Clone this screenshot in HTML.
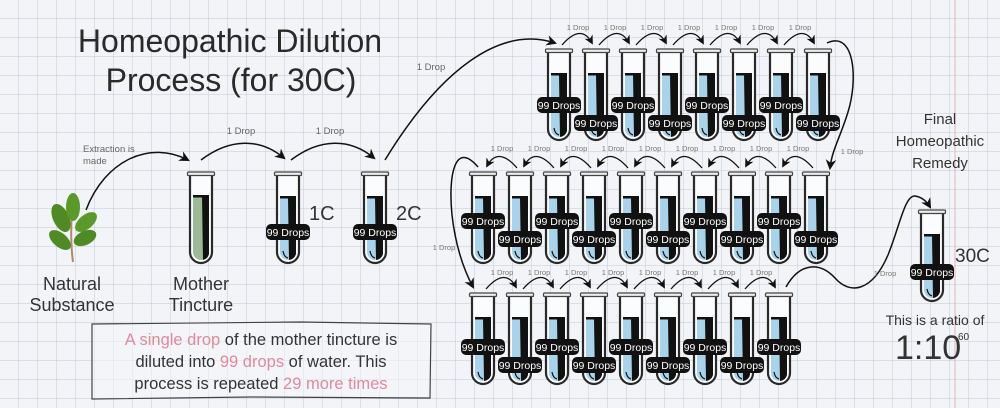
<!DOCTYPE html>
<html><head><meta charset="utf-8"><style>
html,body{margin:0;padding:0;background:#f3f4f7;}
svg{display:block;font-family:"Liberation Sans",sans-serif;}
</style></head><body>
<svg width="1000" height="408" viewBox="0 0 1000 408" xmlns="http://www.w3.org/2000/svg">
<defs>
<pattern id="grid" x="0" y="0" width="19" height="19" patternUnits="userSpaceOnUse">
<path d="M19 0V19M0 19H19" stroke="#bfcadb" stroke-width="1" fill="none"/>
</pattern>
<marker id="ah" viewBox="0 0 10 10" refX="8" refY="5" markerWidth="7" markerHeight="7" orient="auto-start-reverse">
<path d="M0,0 L10,5 L0,10 L3,5 z" fill="#111"/>
</marker>
<g id="tube">
<path d="M-11,3 V80 A11,11 0 0 0 11,80 V3" fill="#fbfcfd" stroke="#2a2a2a" stroke-width="2.2"/>
<path d="M-8,25 H8 V80 A8,8 0 0 1 -8,80 Z" fill="#a9d3ea"/>
<path d="M0,25 H8 V82 A8,8 0 0 1 1,88 Z" fill="#111"/>
<rect x="-8" y="24" width="16" height="2.5" fill="#111"/>
<path d="M-5,79 Q-4,85 0,86" fill="none" stroke="#111" stroke-width="1.2"/>
<rect x="-13.5" y="0" width="27" height="3.5" rx="1" fill="#eee" stroke="#444" stroke-width="1.2"/>
</g>
<g id="gtube">
<path d="M-11,3 V80 A11,11 0 0 0 11,80 V3" fill="#fbfcfd" stroke="#2a2a2a" stroke-width="2.2"/>
<path d="M-8,24 H8 V80 A8,8 0 0 1 -8,80 Z" fill="#9cba94"/>
<path d="M1,24 H8 V82 A8,8 0 0 1 2,88 Z" fill="#111"/>
<rect x="-8" y="23" width="16" height="2.5" fill="#111"/>
<rect x="-13.5" y="0" width="27" height="3.5" rx="1" fill="#eee" stroke="#444" stroke-width="1.2"/>
</g>
<rect id="lb" x="-22" y="-8" width="44" height="16" rx="5" fill="#111"/>
</defs>
<rect width="1000" height="408" fill="#f3f4f7"/>
<rect width="1000" height="408" fill="url(#grid)"/>
<line x1="955" y1="0" x2="955" y2="408" stroke="#e4b2b8" stroke-width="1"/>

<text x="230" y="52" font-size="32" fill="#2a2a2a" text-anchor="middle">Homeopathic Dilution</text>
<text x="231" y="91" font-size="32" fill="#2a2a2a" text-anchor="middle">Process (for 30C)</text>

<g>
<path d="M73,262 Q70,240 72,210" stroke="#b08a6a" stroke-width="2" fill="none"/>
<ellipse cx="61" cy="218" rx="8" ry="15" transform="rotate(-25 61 218)" fill="#4f8a25"/>
<ellipse cx="73" cy="207" rx="7" ry="14" fill="#5a9a2a"/>
<ellipse cx="86" cy="222" rx="7" ry="13" transform="rotate(50 86 222)" fill="#5a9a2a"/>
<ellipse cx="60" cy="240" rx="7" ry="13" transform="rotate(-50 60 240)" fill="#4f8a25"/>
<ellipse cx="85" cy="238" rx="7" ry="12" transform="rotate(65 85 238)" fill="#4f8a25"/>
</g>
<text x="72" y="290" font-size="18" fill="#333" text-anchor="middle">Natural</text>
<text x="72" y="311" font-size="18" fill="#333" text-anchor="middle">Substance</text>
<text x="201" y="290" font-size="18" fill="#333" text-anchor="middle">Mother</text>
<text x="201" y="311" font-size="18" fill="#333" text-anchor="middle">Tincture</text>

<text x="83" y="152" font-size="9.5" fill="#666">Extraction is</text>
<text x="83" y="164" font-size="9.5" fill="#666">made</text>

<g fill="none" stroke="#111" stroke-width="1.5">
<path d="M86,210 C105,160 150,140 188,160" marker-end="url(#ah)"/>
<path d="M201,160 C230,138 260,138 284,158" marker-end="url(#ah)"/>
<path d="M291,160 C320,138 350,138 374,158" marker-end="url(#ah)"/>
<path d="M385,160 C440,70 500,25 555,43" marker-end="url(#ah)"/>
<path d="M827,43 C855,30 858,80 848,112 C840,138 832,150 830,168" marker-end="url(#ah)"/>
<path d="M478,167 C455,140 448,175 452,215 C456,250 465,272 473,287" marker-end="url(#ah)"/>
<path d="M786,287 C800,262 820,262 835,278 C850,295 872,292 888,255 C900,225 905,195 915,196 C922,197 927,202 930,207" marker-end="url(#ah)"/>
</g>
<g font-size="9.5" fill="#666" text-anchor="middle">
<text x="241" y="134">1 Drop</text>
<text x="330" y="134">1 Drop</text>
<text x="431" y="70">1 Drop</text>
</g>
<g font-size="7.5" fill="#777" text-anchor="middle">
<text x="852" y="154">1 Drop</text>
<text x="444" y="250">1 Drop</text>
<text x="885" y="276">1 Drop</text>
</g>

<use href="#gtube" x="201" y="172"/>
<use href="#tube" x="288" y="172"/>
<use href="#tube" x="375" y="172"/>
<use href="#lb" x="288" y="232"/>
<use href="#lb" x="375" y="232"/>
<g font-size="10.5" fill="#fff" text-anchor="middle">
<text x="288" y="236">99 Drops</text>
<text x="375" y="236">99 Drops</text>
</g>
<text x="309" y="220" font-size="20" fill="#333">1C</text>
<text x="396" y="220" font-size="20" fill="#333">2C</text>

<g fill="none" stroke="#111" stroke-width="1.3">
<path d="M562,45 C575,30 585,30 592,43" marker-end="url(#ah)"/>
<path d="M599,45 C612,30 622,30 629,43" marker-end="url(#ah)"/>
<path d="M636,45 C649,30 659,30 666,43" marker-end="url(#ah)"/>
<path d="M673,45 C686,30 696,30 703,43" marker-end="url(#ah)"/>
<path d="M710,45 C723,30 733,30 740,43" marker-end="url(#ah)"/>
<path d="M747,45 C760,30 770,30 777,43" marker-end="url(#ah)"/>
<path d="M784,45 C797,30 807,30 814,43" marker-end="url(#ah)"/>
</g>
<g font-size="7.5" fill="#777" text-anchor="middle">
<text x="578" y="30">1 Drop</text><text x="615" y="30">1 Drop</text><text x="652" y="30">1 Drop</text><text x="689" y="30">1 Drop</text><text x="726" y="30">1 Drop</text><text x="763" y="30">1 Drop</text><text x="800" y="30">1 Drop</text>
</g>
<g fill="none" stroke="#111" stroke-width="1.3">
<path d="M813,168 C800,153 790,153 783,166" marker-end="url(#ah)"/>
<path d="M776,168 C763,153 753,153 746,166" marker-end="url(#ah)"/>
<path d="M739,168 C726,153 716,153 709,166" marker-end="url(#ah)"/>
<path d="M702,168 C689,153 679,153 672,166" marker-end="url(#ah)"/>
<path d="M665,168 C652,153 642,153 635,166" marker-end="url(#ah)"/>
<path d="M628,168 C615,153 605,153 598,166" marker-end="url(#ah)"/>
<path d="M591,168 C578,153 568,153 561,166" marker-end="url(#ah)"/>
<path d="M554,168 C541,153 531,153 524,166" marker-end="url(#ah)"/>
<path d="M517,168 C504,153 494,153 487,166" marker-end="url(#ah)"/>
</g>
<g font-size="7.5" fill="#777" text-anchor="middle">
<text x="502" y="151">1 Drop</text><text x="539" y="151">1 Drop</text><text x="576" y="151">1 Drop</text><text x="613" y="151">1 Drop</text><text x="650" y="151">1 Drop</text><text x="687" y="151">1 Drop</text><text x="724" y="151">1 Drop</text><text x="761" y="151">1 Drop</text><text x="798" y="151">1 Drop</text>
</g>
<g fill="none" stroke="#111" stroke-width="1.3">
<path d="M486,289 C499,274 509,274 516,287" marker-end="url(#ah)"/>
<path d="M523,289 C536,274 546,274 553,287" marker-end="url(#ah)"/>
<path d="M560,289 C573,274 583,274 590,287" marker-end="url(#ah)"/>
<path d="M597,289 C610,274 620,274 627,287" marker-end="url(#ah)"/>
<path d="M634,289 C647,274 657,274 664,287" marker-end="url(#ah)"/>
<path d="M671,289 C684,274 694,274 701,287" marker-end="url(#ah)"/>
<path d="M708,289 C721,274 731,274 738,287" marker-end="url(#ah)"/>
<path d="M745,289 C758,274 768,274 775,287" marker-end="url(#ah)"/>
</g>
<g font-size="7.5" fill="#777" text-anchor="middle">
<text x="502" y="275">1 Drop</text><text x="539" y="275">1 Drop</text><text x="576" y="275">1 Drop</text><text x="613" y="275">1 Drop</text><text x="650" y="275">1 Drop</text><text x="687" y="275">1 Drop</text><text x="724" y="275">1 Drop</text><text x="761" y="275">1 Drop</text>
</g>

<use href="#tube" x="559" y="49"/><use href="#tube" x="596" y="49"/><use href="#tube" x="633" y="49"/><use href="#tube" x="670" y="49"/><use href="#tube" x="707" y="49"/><use href="#tube" x="744" y="49"/><use href="#tube" x="781" y="49"/><use href="#tube" x="818" y="49"/>
<use href="#tube" x="483" y="172"/><use href="#tube" x="520" y="172"/><use href="#tube" x="557" y="172"/><use href="#tube" x="594" y="172"/><use href="#tube" x="631" y="172"/><use href="#tube" x="668" y="172"/><use href="#tube" x="705" y="172"/><use href="#tube" x="742" y="172"/><use href="#tube" x="779" y="172"/><use href="#tube" x="816" y="172"/>
<use href="#tube" x="483" y="293"/><use href="#tube" x="520" y="293"/><use href="#tube" x="557" y="293"/><use href="#tube" x="594" y="293"/><use href="#tube" x="631" y="293"/><use href="#tube" x="668" y="293"/><use href="#tube" x="705" y="293"/><use href="#tube" x="742" y="293"/><use href="#tube" x="779" y="293"/>
<use href="#tube" x="932" y="210"/>

<use href="#lb" x="559" y="105"/><use href="#lb" x="596" y="123"/><use href="#lb" x="633" y="105"/><use href="#lb" x="670" y="123"/><use href="#lb" x="707" y="105"/><use href="#lb" x="744" y="123"/><use href="#lb" x="781" y="105"/><use href="#lb" x="818" y="123"/>
<use href="#lb" x="483" y="221"/><use href="#lb" x="520" y="239"/><use href="#lb" x="557" y="221"/><use href="#lb" x="594" y="239"/><use href="#lb" x="631" y="221"/><use href="#lb" x="668" y="239"/><use href="#lb" x="705" y="221"/><use href="#lb" x="742" y="239"/><use href="#lb" x="779" y="221"/><use href="#lb" x="816" y="239"/>
<use href="#lb" x="483" y="347"/><use href="#lb" x="520" y="365"/><use href="#lb" x="557" y="347"/><use href="#lb" x="594" y="365"/><use href="#lb" x="631" y="347"/><use href="#lb" x="668" y="365"/><use href="#lb" x="705" y="347"/><use href="#lb" x="742" y="365"/><use href="#lb" x="779" y="347"/>
<use href="#lb" x="932" y="272"/>
<g font-size="10.5" fill="#fff" text-anchor="middle">
<text x="559" y="109">99 Drops</text><text x="596" y="127">99 Drops</text><text x="633" y="109">99 Drops</text><text x="670" y="127">99 Drops</text><text x="707" y="109">99 Drops</text><text x="744" y="127">99 Drops</text><text x="781" y="109">99 Drops</text><text x="818" y="127">99 Drops</text>
<text x="483" y="225">99 Drops</text><text x="520" y="243">99 Drops</text><text x="557" y="225">99 Drops</text><text x="594" y="243">99 Drops</text><text x="631" y="225">99 Drops</text><text x="668" y="243">99 Drops</text><text x="705" y="225">99 Drops</text><text x="742" y="243">99 Drops</text><text x="779" y="225">99 Drops</text><text x="816" y="243">99 Drops</text>
<text x="483" y="351">99 Drops</text><text x="520" y="369">99 Drops</text><text x="557" y="351">99 Drops</text><text x="594" y="369">99 Drops</text><text x="631" y="351">99 Drops</text><text x="668" y="369">99 Drops</text><text x="705" y="351">99 Drops</text><text x="742" y="369">99 Drops</text><text x="779" y="351">99 Drops</text>
<text x="932" y="276">99 Drops</text>
</g>

<g font-size="15" fill="#333" text-anchor="middle">
<text x="940" y="124">Final</text>
<text x="940" y="146">Homeopathic</text>
<text x="940" y="168">Remedy</text>
</g>
<text x="955" y="262" font-size="19" fill="#333">30C</text>
<text x="935" y="325" font-size="14" fill="#333" text-anchor="middle">This is a ratio of</text>
<text x="895" y="359" font-size="34" fill="#333">1:10</text>
<text x="958" y="340" font-size="10" fill="#333">60</text>

<path d="M92,324 L300,322 L431,324 L430,398 L250,397 L92,399 Z" fill="#f4f5f8" fill-opacity="0.6" stroke="#444" stroke-width="1.2"/>
<g font-size="16.5" text-anchor="middle" fill="#333">
<text x="261" y="345"><tspan fill="#e08a9a">A single drop</tspan> of the mother tincture is</text>
<text x="261" y="367">diluted into <tspan fill="#e08a9a">99 drops</tspan> of water. This</text>
<text x="261" y="389">process is repeated <tspan fill="#e08a9a">29 more times</tspan></text>
</g>
</svg>
</body></html>
